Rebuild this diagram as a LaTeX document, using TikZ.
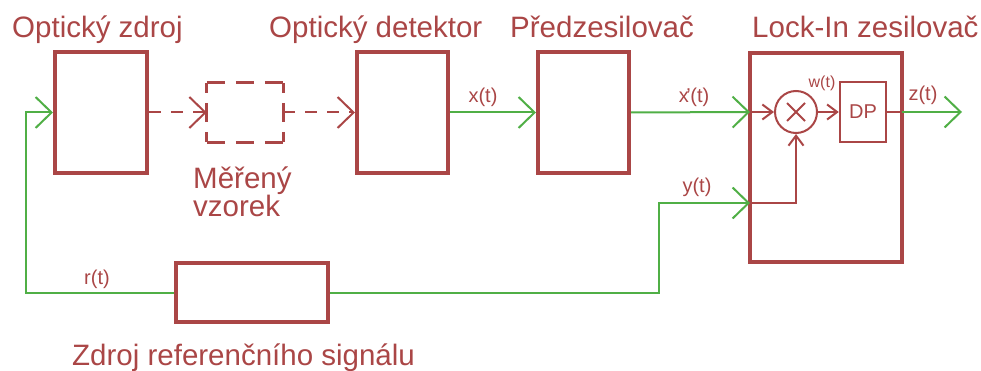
\documentclass[tikz,border=0pt]{standalone}
\usepackage{fontspec}
\setmainfont{Liberation Sans}
\usetikzlibrary{arrows.meta,calc}
\definecolor{bred}{RGB}{170,70,70}
\definecolor{sgreen}{RGB}{80,175,70}
\tikzset{
  bigbox/.style={draw=bred, line width=4pt, inner sep=0pt, minimum width=#1},
  smallbox/.style={draw=bred, line width=2.5pt, inner sep=0pt},
  title/.style={text=bred, font=\fontsize{29.5}{27}\selectfont, inner sep=0pt, anchor=base west, align=left},
  sig/.style={text=bred, font=\fontsize{20}{22}\selectfont, inner sep=0pt},
  gline/.style={draw=sgreen, line width=2pt},
  garrow/.style={gline, -{Straight Barb[length=16pt,width=31pt]}},
  rdash/.style={draw=bred, line width=2pt, dash pattern=on 12pt off 10pt,
    -{Straight Barb[length=16pt,width=31pt]}},
  rline/.style={draw=bred, line width=2pt},
  rarrow/.style={rline, -{Straight Barb[length=10pt,width=15pt]}},
}
\begin{document}
\begin{tikzpicture}[x=1pt,y=-1pt]
\useasboundingbox (0,0) rectangle (981,371);

% blocks
\node[bigbox=92pt, minimum height=121pt] (src) at (101,112.5) {};
\node[draw=none, inner sep=0pt, minimum width=76pt, minimum height=59pt] (smp) at (245,112.5) {};
\node[bigbox=91pt, minimum height=121pt] (det) at (402.5,112.5) {};
\node[bigbox=91pt, minimum height=121pt] (pre) at (583.5,112.5) {};
\node[bigbox=152pt, minimum height=209pt] (lia) at (826,157.5) {};
\node[bigbox=152pt, minimum height=59pt] (ref) at (252,292.5) {};
\node[draw=bred, line width=2pt, circle, inner sep=0pt, minimum size=42pt] (mix) at (796,112) {};
\node[smallbox, minimum width=46pt, minimum height=60pt, text=bred,
      font=\fontsize{20}{22}\selectfont] (dp) at (863,112) {DP};

% dashed outline of the sample
\draw[bred, line width=3pt, dash pattern=on 18pt off 11pt]
  (smp.north west) -- (smp.north east) (smp.south west) -- (smp.south east);
\draw[bred, line width=3pt, dash pattern=on 10pt off 10pt on 19pt off 10pt]
  (smp.north west) -- (smp.south west) (smp.north east) -- (smp.south east);

% multiplier cross
\draw[bred, line width=2pt] ($(mix)+(-9,-9)$) -- ($(mix)+(9,9)$)
  ($(mix)+(-9,9)$) -- ($(mix)+(9,-9)$);

% titles
\node[title] (t1) at (12,38) {Optický zdroj};
\node[title] (t2) at (269,38) {Optický detektor};
\node[title] (t3) at (510,38) {Předzesilovač};
\node[title] (t4) at (752,38) {Lock-In zesilovač};
\node[title] (t5) at (193,217) {Měřený\\vzorek};
\node[title] (t6) at (72,365) {Zdroj referenčního signálu};

% helper points
\coordinate (c1) at (26,292.5);
\coordinate (c2) at (659,292.5);
\coordinate (xin) at (750,112);
\coordinate (yin) at (750,203);
\coordinate (ybend) at (796,203);
\coordinate (zb) at (902,112);
\coordinate (zout) at (962,112);

% optical path
\draw[rdash] (src.east) -- (smp.west);
\draw[rdash] (smp.east) -- (det.west);

% electrical signals
\draw[garrow] (ref.west) -- (c1) |- (src.west);
\draw[garrow] (ref.east) -- (c2) |- (yin);
\draw[garrow] (det.east) -- (pre.west);
\draw[garrow] (pre.east) -- (xin);
\draw[garrow] (zb) -- (zout);

% inside the lock-in amplifier
\draw[rarrow] (xin) -- (mix.west);
\draw[rarrow] (yin) -- (ybend) -- (mix.south);
\draw[rarrow] (mix.east) -- (dp.west);
\draw[rline] (dp.east) -- (zb);

% signal labels
\node[sig] (lx) at (483,97) {x(t)};
\node[sig] (lxp) at (694,97) {x\kern-0.12em'\kern-0.02em(t)};
\node[sig] (ly) at (697,187) {y(t)};
\node[sig] (lr) at (97,279) {r(t)};
\node[sig, font=\fontsize{16}{18}\selectfont] (lw) at (822,83.5) {w(t)};
\node[sig] (lz) at (923,95) {z(t)};
\end{tikzpicture}
\end{document}
